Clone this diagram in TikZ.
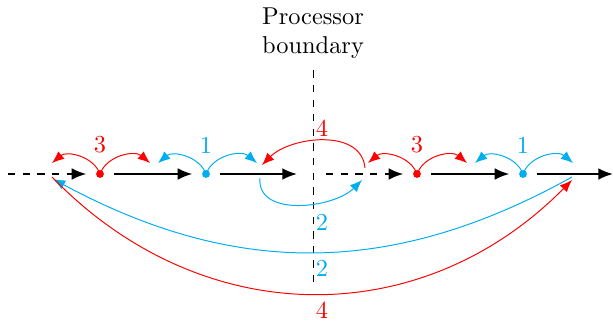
\documentclass[tikz,border=0pt]{standalone}
\usepackage{tikz}
\usetikzlibrary{arrows.meta}
\definecolor{procred}{HTML}{FF0000}
\definecolor{procblue}{HTML}{00AEEF}
\tikzset{
  dotpt/.style={circle, fill=#1, inner sep=0pt, minimum size=3.2pt, outer sep=4pt},
  flow/.style={-{Latex[length=6pt,width=4.8pt]}, line width=0.8pt},
  hop/.style={-{Latex[length=5pt,width=4pt]}, draw=#1, line width=0.4pt},
  lbl/.style={text=#1, inner sep=1pt},
}

\begin{document}
\begin{tikzpicture}[x=0.41pt, y=0.41pt]
    \useasboundingbox (0,0) rectangle (613,-320);
    % cells on each processor
    \node[dotpt=procred] (r1) at (100,-174) {};
    \node[dotpt=procblue] (b1) at (206,-174) {};
    \node[dotpt=procred] (r2) at (417,-174) {};
    \node[dotpt=procblue] (b2) at (523,-174) {};
    \coordinate (in) at (8,-174);
    \coordinate (cut1) at (297,-174);
    \coordinate (cut2) at (326,-174);
    \coordinate (out) at (613,-174);
    \draw[flow, dashed] (in) -- (r1);
    \draw[flow] (r1) -- (b1);
    \draw[flow] (b1) -- (cut1);
    \draw[flow, dashed] (cut2) -- (r2);
    \draw[flow] (r2) -- (b2);
    \draw[flow] (b2) -- (out);
    % boundary
    \node[align=center] (bnd) at (313,-33) {Processor\\boundary};
    \coordinate (bndend) at (313,-282);
    \draw[dashed, shorten <=1.3pt] (bnd) -- (bndend);
    % short hops
    \coordinate (r1l) at (52,-163);
    \coordinate (r1r) at (150,-163);
    \coordinate (b1l) at (158,-163);
    \coordinate (b1r) at (257,-163);
    \coordinate (r2l) at (368,-163);
    \coordinate (r2r) at (467,-163);
    \coordinate (b2l) at (475,-163);
    \coordinate (b2r) at (573,-163);
    \draw[hop=procred] (r1.center) to[out=110, in=40] (r1l);
    \draw[hop=procred] (r1.center) to[out=70, in=140] (r1r);
    \draw[hop=procblue] (b1.center) to[out=110, in=40] (b1l);
    \draw[hop=procblue] (b1.center) to[out=70, in=140] (b1r);
    \draw[hop=procred] (r2.center) to[out=110, in=40] (r2l);
    \draw[hop=procred] (r2.center) to[out=70, in=140] (r2r);
    \draw[hop=procblue] (b2.center) to[out=110, in=40] (b2l);
    \draw[hop=procblue] (b2.center) to[out=70, in=140] (b2r);
    \node[lbl=procred] (n3a) at (100,-145) {3};
    \node[lbl=procblue] (n1a) at (206,-145) {1};
    \node[lbl=procred] (n3b) at (417,-145) {3};
    \node[lbl=procblue] (n1b) at (523,-145) {1};
    % hops across the boundary
    \coordinate (t4s) at (365,-168);
    \coordinate (t4e) at (262,-165);
    \coordinate (s2s) at (260,-178);
    \coordinate (s2e) at (362,-180);
    \coordinate (w2s) at (572,-177);
    \coordinate (w2e) at (53,-179);
    \coordinate (w4s) at (52,-177);
    \coordinate (w4e) at (572,-180);
    \draw[hop=procred] (t4s) to[out=95, in=45] (t4e);
    \draw[hop=procblue] (s2s) to[out=-95, in=-135] (s2e);
    \draw[hop=procblue] (w2s) .. controls (392,-277) and (235,-277) .. (w2e);
    \draw[hop=procred] (w4s) .. controls (202,-332) and (422,-332) .. (w4e);
    \node[lbl=procred] (n4a) at (322,-128) {4};
    \node[lbl=procblue] (n2a) at (322,-222) {2};
    \node[lbl=procblue] (n2b) at (322,-268) {2};
    \node[lbl=procred] (n4b) at (322,-310) {4};
\end{tikzpicture}
\end{document}
